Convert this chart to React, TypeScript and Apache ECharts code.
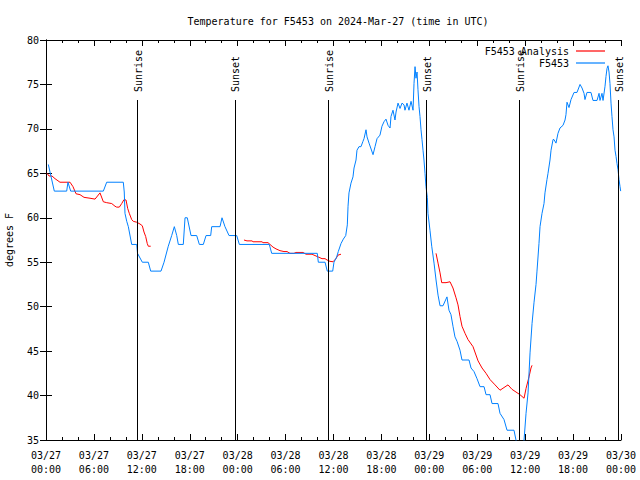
import React, { useEffect, useRef } from "react";
import * as echarts from "echarts";

// Hours since 2024-03-27 00:00 UTC and temperature in degrees F
const obsHours = [
  0.29, 1.04, 2.59, 2.75, 3.09, 7.18, 7.6, 9.68, 9.8, 9.89, 10.11, 10.31, 10.73, 11.36, 11.46, 12.06, 12.81, 13.11,
  14.4, 14.78, 15.31, 15.74, 16.07, 16.37, 16.57, 17.19, 17.41, 17.69, 18.16, 18.87, 19.2, 19.7, 20.04, 20.62, 20.75,
  21.79, 22.04, 22.41, 22.92, 23.88, 24.21, 27.96, 28.26, 33.97, 34.1, 34.94, 35.22, 35.9, 36.06, 36.4, 36.6, 36.94,
  37.23, 37.53, 37.73, 37.82, 37.94, 38.19, 38.44, 38.57, 38.82, 38.94, 39.19, 39.44, 39.69, 39.82, 40.07, 40.2,
  40.45, 40.95, 41.2, 41.45, 41.82, 42.07, 42.32, 42.57, 42.83, 43.08, 43.2, 43.45, 43.7, 43.83, 44.08, 44.33, 44.58,
  44.83, 44.95, 45.2, 45.45, 45.71, 45.96, 46.08, 46.21, 46.33, 46.46, 46.58, 46.71, 46.83, 46.96, 47.08, 47.21,
  47.33, 47.46, 47.58, 47.75, 47.83, 48.08, 48.3, 48.59, 48.84, 49.09, 49.34, 49.71, 50.21, 50.46, 50.71, 50.96,
  51.21, 51.47, 51.84, 52.09, 52.97, 53.22, 53.59, 53.97, 54.35, 54.85, 55.1, 55.6, 55.85, 56.6, 56.85, 57.35, 57.73,
  58.6, 58.85, 59.1, 59.6, 59.86, 60.11, 60.36, 60.61, 60.86, 61.11, 61.36, 61.48, 61.73, 61.86, 62.11, 62.36, 62.48,
  62.73, 62.86, 63.11, 63.24, 63.49, 63.61, 63.86, 64.11, 64.36, 64.74, 64.99, 65.11, 65.24, 65.49, 65.74, 66.12,
  66.49, 66.87, 67.12, 67.37, 67.49, 67.74, 68.24, 68.49, 69.0, 69.25, 69.37, 69.62, 69.75, 70.0, 70.12, 70.25, 70.37,
  70.5, 70.62, 70.75, 70.87, 71.0, 71.13, 71.25, 71.38, 71.5, 71.63, 71.75, 71.88, 71.96,
];
const obsTemps = [
  66, 63, 63, 64, 63, 63, 64, 64, 62.9, 60.5, 59.6, 59, 57, 57, 56, 55, 55, 54,
  54, 55, 56.8, 58, 59, 58, 57, 57, 60, 60, 58, 58, 57, 57, 58, 58, 59,
  59, 60, 59, 58, 58, 57, 57, 56, 56, 55, 55, 54, 54, 55, 55.6, 56.2, 57.1,
  57.6, 58, 59.2, 61.3, 62.8, 63.9, 64.6, 65.6, 66.5, 67.6, 68, 68, 68.6, 68.9, 69.9, 69.1,
  68.4, 67.1, 68, 68.9, 69.3, 70.3, 70.8, 71.1, 70.4, 70.1, 71.4, 72.1, 71, 71.9, 72.9, 72.3, 72.9,
  72.7, 72.1, 72.9, 72.1, 73.1, 72.1, 75.1, 77, 75.7, 76.4, 74.4, 72.5, 71.4, 69.9, 68.8, 67.6,
  66.5, 65, 63.5, 62.3, 60.5, 58.6, 56.8, 54.9, 53, 51.3, 50.1, 50.1, 51.1, 49.6, 49.1, 47.8,
  46.6, 46.1, 45.1, 44, 44, 43.1, 42.7, 41.9, 41, 41, 40.1, 40.1, 39.1, 39.1, 38, 37.3, 36.1,
  36.1, 35, 33.5, 33, 35, 38, 40.3, 44.8, 48.1, 50.5, 52.5, 54, 57.1, 59, 60.5, 61.6, 62.8,
  64.3, 65, 66.5, 67.6, 68.8, 68.8, 68.4, 69.5, 70.1, 70.4, 71, 71.6, 73, 72.4, 73.3, 74.1,
  74.1, 75, 74.6, 74, 73.3, 74.1, 74.1, 73.2, 73.2, 74, 73.2, 74, 73.2, 74.8, 75.9, 76.8, 77.1,
  76.4, 75.1, 72.9, 71.4, 69.9, 69.1, 67.6, 66.9, 66.1, 65.4, 64.3, 63.5, 63,
];

// Analysis runs (three separate pieces)
const anaHours1 = [0.13, 0.38, 0.75, 1.13, 1.75, 3.01, 3.38, 3.76, 4.26, 4.76, 5.51, 6.14, 6.76, 7.18, 7.6, 8.23, 8.64, 8.85, 9.18, 9.48, 9.77, 10.02, 10.23, 10.43, 10.73, 10.93, 11.36, 11.77, 12.06, 12.27, 12.48, 12.68, 12.81, 13.11];
const anaTemps1 = [65, 64.7, 64.7, 64.4, 64, 64, 63.5, 62.7, 62.6, 62.3, 62.2, 62.1, 62.8, 61.8, 61.7, 61.6, 61.3, 61.2, 61.2, 61.6, 62.05, 62, 61.05, 60.5, 59.8, 59.6, 59.5, 59.3, 59.1, 58.4, 57.9, 57.1, 56.8, 56.8];
const anaHours2 = [24.79, 25.17, 25.8, 25.92, 27.05, 27.17, 27.8, 28.05, 28.43, 28.8, 29.3, 29.8, 30.18, 30.55, 31.05, 31.3, 32.18, 32.56, 33.31, 33.56, 34.06, 34.56, 34.94, 35.19, 35.56, 35.94, 36.31, 36.56, 36.94];
const anaTemps2 = [57.5, 57.4, 57.4, 57.3, 57.3, 57.2, 57.2, 57.0, 56.7, 56.5, 56.3, 56.2, 56.2, 56.0, 56.0, 56.1, 56.1, 55.9, 55.9, 55.8, 55.6, 55.4, 55.4, 55.25, 55.1, 55.05, 55.4, 55.8, 55.9];
const anaHours3 = [48.84, 49.09, 49.34, 49.55, 50.09, 50.59, 50.96, 51.34, 51.59, 51.84, 52.09, 52.47, 52.84, 53.47, 54.1, 54.6, 55.1, 55.6, 56.23, 56.85, 57.35, 57.85, 58.35, 58.85, 59.35, 59.86, 60.11, 60.48, 60.73, 60.86];
const anaTemps3 = [56, 54.9, 53.8, 52.7, 52.7, 52.8, 52.1, 51.0, 50.2, 48.9, 47.8, 47.0, 46.3, 45.5, 43.9, 43.1, 42.5, 41.8, 41.2, 40.6, 40.9, 41.2, 40.7, 40.4, 40.1, 39.7, 40.8, 42.1, 43.1, 43.4];

// Sun events (hours since start)
const sunEventHours = [11.41, 23.66, 35.4, 47.66, 59.3, 71.66];
const sunEventNames = ["Sunrise", "Sunset", "Sunrise", "Sunset", "Sunrise", "Sunset"];
const sunLineTop = 73.25;

const yMin = 35;
const yMax = 80;
const xMin = 0;
const xMax = 72;

const FONT = "DejaVu Sans Mono";

function fmtTick(h: number) {
  const day = 27 + Math.floor(h / 24);
  const hr = Math.round(h % 24);
  return `03/${String(day).padStart(2, "0")}\n${String(hr).padStart(2, "0")}:00`;
}

export default function App() {
  const ref = useRef<HTMLDivElement>(null);
  useEffect(() => {
    if (!ref.current) return;
    const chart = echarts.init(ref.current, undefined, { renderer: "svg" });
    const obs = obsHours.map((h, i) => [h, obsTemps[i]]);
    const ana: any[] = [];
    [[anaHours1, anaTemps1], [anaHours2, anaTemps2], [anaHours3, anaTemps3]].forEach(([hs, ts], k) => {
      if (k > 0) ana.push([hs[0] - 0.01, "-"]);
      hs.forEach((h, i) => ana.push([h, ts[i]]));
    });
    const axisLine = { show: true, lineStyle: { color: "#000", width: 1 } };
    chart.setOption({
      animation: false,
      backgroundColor: "#fff",
      textStyle: { fontFamily: FONT },
      title: {
        text: "Temperature for F5453 on 2024-Mar-27 (time in UTC)",
        left: 333,
        textAlign: "center",
        top: 11,
        textStyle: { fontFamily: FONT, fontSize: 10, fontWeight: "normal", color: "#000" },
      },
      legend: {
        orient: "vertical",
        right: 30,
        top: 40,
        align: "right",
        icon: "rect",
        itemWidth: 29,
        itemHeight: 1.2,
        itemGap: 0,
        textStyle: { fontFamily: FONT, fontSize: 10, color: "#000", lineHeight: 12, padding: [0, 2, 0, 0] },
        data: [
          { name: "F5453 Analysis", itemStyle: { color: "#ff0000" } },
          { name: "F5453", itemStyle: { color: "#0080ff" } },
        ],
      },
      grid: { left: 46, right: 19, top: 40, bottom: 40, containLabel: false, outerBoundsMode: "none" },
      xAxis: [
        {
          type: "value",
          min: xMin,
          max: xMax,
          interval: 6,
          axisLine,
          axisTick: { show: true, inside: true, length: 6, lineStyle: { color: "#000" } },
          minorTick: { show: true, splitNumber: 3, length: 3, lineStyle: { color: "#000" } },
          splitLine: { show: false },
          axisLabel: {
            formatter: (v: number) => fmtTick(v),
            fontFamily: FONT,
            fontSize: 10,
            color: "#000",
            lineHeight: 14,
            margin: 8,
          },
        },
        {
          type: "value",
          position: "top",
          min: xMin,
          max: xMax,
          interval: 6,
          axisLine,
          axisTick: { show: true, inside: true, length: 6, lineStyle: { color: "#000" } },
          minorTick: { show: true, splitNumber: 3, length: 3, lineStyle: { color: "#000" } },
          splitLine: { show: false },
          axisLabel: { show: false },
        },
      ],
      yAxis: [
        {
          type: "value",
          min: yMin,
          max: yMax,
          interval: 5,
          name: "degrees F",
          nameLocation: "middle",
          nameGap: 32,
          nameRotate: 90,
          nameTextStyle: { fontFamily: FONT, fontSize: 10, color: "#000" },
          axisLine,
          axisTick: { show: true, inside: true, length: 6, lineStyle: { color: "#000" } },
          splitLine: { show: false },
          axisLabel: { fontFamily: FONT, fontSize: 10, color: "#000", margin: 7 },
        },
        {
          type: "value",
          position: "right",
          min: yMin,
          max: yMax,
          interval: 5,
          axisLine,
          axisTick: { show: true, inside: true, length: 6, lineStyle: { color: "#000" } },
          splitLine: { show: false },
          axisLabel: { show: false },
        },
      ],
      series: [
        {
          name: "sun",
          type: "line",
          data: [],
          z: 1,
          silent: true,
          markLine: {
            silent: true,
            symbol: ["none", "none"],
            label: { show: false },
            lineStyle: { color: "#000", width: 1, type: "solid" },
            data: sunEventHours.map((h) => [{ coord: [h, yMin] }, { coord: [h, sunLineTop] }]),
          },
        },
        {
          name: "F5453 Analysis",
          type: "line",
          data: ana,
          z: 3,
          symbol: "none",
          connectNulls: false,
          lineStyle: { color: "#ff0000", width: 1 },
          itemStyle: { color: "#ff0000" },
        },
        {
          name: "F5453",
          type: "line",
          data: obs,
          z: 3,
          symbol: "none",
          lineStyle: { color: "#0080ff", width: 1 },
          itemStyle: { color: "#0080ff" },
        },
      ],
    });
    const texts = sunEventHours.map((h, i) => {
      const x = chart.convertToPixel({ xAxisIndex: 0 }, h) as number;
      return {
        type: "text",
        x: x + 1,
        y: 92,
        rotation: Math.PI / 2,
        z: 10,
        style: {
          text: sunEventNames[i],
          font: `10px '${FONT}'`,
          fill: "#000",
          align: "left",
          verticalAlign: "middle",
        },
      };
    });
    chart.setOption({ graphic: texts });
    return () => chart.dispose();
  }, []);
  return (
    <div
      ref={ref}
      style={{ position: "fixed", left: 0, top: 0, width: 640, height: 480, background: "#fff" }}
    />
  );
}
